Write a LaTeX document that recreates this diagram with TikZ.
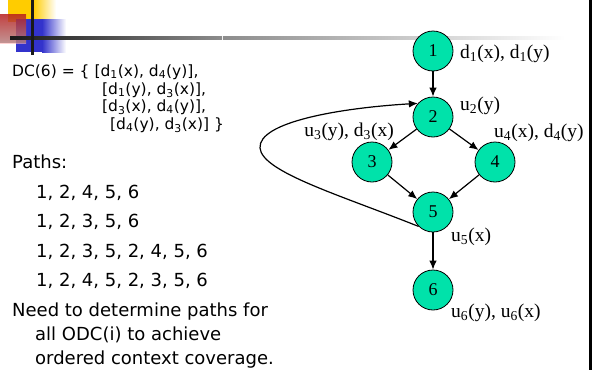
\documentclass[tikz,border=0pt]{standalone}
\usepackage{fontspec}
\setmainfont{DejaVu Sans}
\newfontfamily\labelfont{Liberation Serif}
\usetikzlibrary{arrows.meta}
\definecolor{nodegreen}{RGB}{0,226,170}
\definecolor{deco yellow}{RGB}{255,204,0}
\definecolor{deco blue}{RGB}{51,51,204}
\definecolor{deco red}{RGB}{255,40,40}

\tikzset{
  state/.style={circle, draw=black, line width=0.8pt, fill=nodegreen,
    minimum size=40pt, inner sep=0pt, font=\labelfont\fontsize{18}{18}\selectfont},
  annot/.style={inner sep=0pt, font=\labelfont\fontsize{19.5}{20}\selectfont},
  flow/.style={-{Latex[length=9pt,width=7.5pt]}, line width=1.2pt},
  dctext/.style={anchor=base west, inner sep=0pt, font=\fontsize{15.5}{16}\selectfont},
  bodytext/.style={anchor=base west, inner sep=0pt, font=\fontsize{18}{18}\selectfont}
}

\begin{document}
\begin{tikzpicture}[x=1pt,y=-1pt]
\useasboundingbox (0,0) rectangle (598,370);

% title-bar ornament
\fill[deco yellow] (8,0) rectangle (33,22);
\fill[left color=deco yellow, right color=white] (33,0) rectangle (56,22);
\fill[deco blue] (16,19) rectangle (42,52);
\fill[left color=deco blue, right color=white] (42,19) rectangle (66,52);
\fill[top color=deco red, bottom color=deco red!35, opacity=0.6] (0,14) rectangle (26,43);
\fill[left color=black!90, right color=black!45] (10,36) rectangle (222,39);
\fill[left color=black!45, right color=white] (223,36) rectangle (565,39);
\fill[black!90] (31,0) rectangle (34,55);

% frame edge on the right
\draw[line width=2.5pt] (590.5,0) -- (590.5,370);

% definition set
\node[dctext] (dc1) at (12,76) {DC(6) = \{ [d\textsubscript{1}(x), d\textsubscript{4}(y)],};
\node[dctext] (dc2) at (102,94) {[d\textsubscript{1}(y), d\textsubscript{3}(x)],};
\node[dctext] (dc3) at (102,111) {[d\textsubscript{3}(x), d\textsubscript{4}(y)],};
\node[dctext] (dc4) at (110,129) {[d\textsubscript{4}(y), d\textsubscript{3}(x)] \}};

% paths
\node[bodytext] (ph) at (12,168) {Paths:};
\node[bodytext] (p1) at (36,198) {1, 2, 4, 5, 6};
\node[bodytext] (p2) at (36,227) {1, 2, 3, 5, 6};
\node[bodytext] (p3) at (36,257) {1, 2, 3, 5, 2, 4, 5, 6};
\node[bodytext] (p4) at (36,286) {1, 2, 4, 5, 2, 3, 5, 6};
\node[bodytext] (n1) at (12,316) {Need to determine paths for};
\node[bodytext] (n2) at (35,340) {all ODC(i) to achieve};
\node[bodytext] (n3) at (35,364) {ordered context coverage.};

% flow graph
\node[state] (s1) at (433,51) {1};
\node[state] (s2) at (433,117) {2};
\node[state] (s3) at (372,162) {3};
\node[state] (s4) at (495,162) {4};
\node[state] (s5) at (433,212) {5};
\node[state] (s6) at (433,290) {6};

\node[annot, anchor=base west] (l1) at (460,58) {d\textsubscript{1}(x), d\textsubscript{1}(y)};
\node[annot, anchor=base west] (l2) at (460,110) {u\textsubscript{2}(y)};
\node[annot, anchor=base east] (l3) at (394,136) {u\textsubscript{3}(y), d\textsubscript{3}(x)};
\node[annot, anchor=base west] (l4) at (494,137) {u\textsubscript{4}(x), d\textsubscript{4}(y)};
\node[annot, anchor=base west] (l5) at (451,241) {u\textsubscript{5}(x)};
\node[annot, anchor=base west] (l6) at (451,317) {u\textsubscript{6}(y), u\textsubscript{6}(x)};

\draw[flow] (s1) -- (s2);
\draw[flow] (s2) -- (s3);
\draw[flow] (s2) -- (s4);
\draw[flow] (s3) -- (s5);
\draw[flow] (s4) -- (s5);
\draw[flow] (s5) -- (s6);
\draw[flow] (s5.225) .. controls (340,195) and (262,172) .. (260,148)
  .. controls (258,122) and (340,108) .. (s2.138);
\end{tikzpicture}
\end{document}
